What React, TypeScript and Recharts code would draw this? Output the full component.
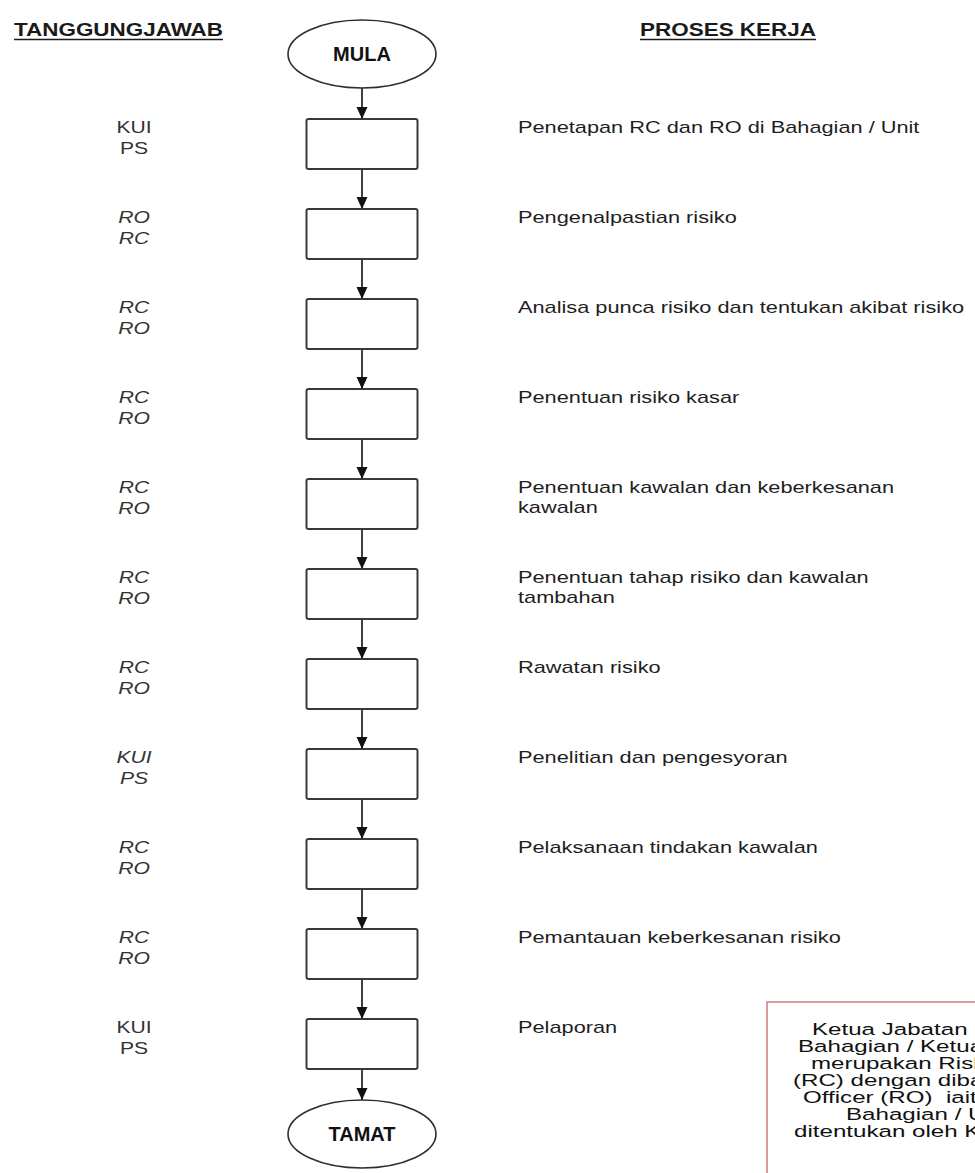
import { ScatterChart, Scatter, XAxis, YAxis, Customized } from 'recharts';

const FONT = '"Liberation Sans", Arial, Helvetica, sans-serif';

// nodes of the flow, top to bottom (row = index)
const nodeLabels = ['MULA', '', '', '', '', '', '', '', '', '', '', '', 'TAMAT'];

const prosesKerja = [
  ['Penetapan RC dan RO di Bahagian / Unit'],
  ['Pengenalpastian risiko'],
  ['Analisa punca risiko dan tentukan akibat risiko'],
  ['Penentuan risiko kasar'],
  ['Penentuan kawalan dan keberkesanan', 'kawalan'],
  ['Penentuan tahap risiko dan kawalan', 'tambahan'],
  ['Rawatan risiko'],
  ['Penelitian dan pengesyoran'],
  ['Pelaksanaan tindakan kawalan'],
  ['Pemantauan keberkesanan risiko'],
  ['Pelaporan'],
];

const tanggungjawab = [
  ['KUI', 'PS'],
  ['RO', 'RC'],
  ['RC', 'RO'],
  ['RC', 'RO'],
  ['RC', 'RO'],
  ['RC', 'RO'],
  ['RC', 'RO'],
  ['KUI', 'PS'],
  ['RC', 'RO'],
  ['RC', 'RO'],
  ['KUI', 'PS'],
];

const ownerItalic = [false, true, true, true, true, true, true, true, true, true, false];

const headers = ['TANGGUNGJAWAB', 'PROSES KERJA'];

// the note box runs off the right edge of the page
const noteLines = [
  'Ketua Jabatan (',
  'Bahagian / Ketua',
  'merupakan Risk',
  '(RC) dengan diba',
  'Officer (RO)\u00a0 iait',
  'Bahagian / U',
  'ditentukan oleh K',
];

const flowData = nodeLabels.map((label, i) => ({
  lane: 1,
  row: i,
  label,
  terminal: i === 0 || i === nodeLabels.length - 1,
  proses: i > 0 && i <= prosesKerja.length ? prosesKerja[i - 1] : null,
}));

const ownerData = tanggungjawab.map((lines, i) => ({
  lane: 0,
  row: i + 1,
  lines,
  italic: ownerItalic[i],
}));

const BOX_W = 111;
const BOX_H = 50;
const ELL_RX = 74;
const ELL_RY = 34;

function FlowNode(props: any) {
  const { cx, cy, payload } = props;
  if (cx == null || cy == null) return null;
  const top = payload.terminal ? cy - ELL_RY : cy - BOX_H / 2;
  return (
    <g>
      {payload.terminal ? (
        <ellipse cx={cx} cy={cy} rx={ELL_RX} ry={ELL_RY} fill="#fff" stroke="#2e2e2e" strokeWidth={1.6} />
      ) : (
        <rect
          x={cx - BOX_W / 2}
          y={top}
          width={BOX_W}
          height={BOX_H}
          rx={2}
          fill="#fff"
          stroke="#3a3a3a"
          strokeWidth={2}
        />
      )}
      {payload.row > 0 && (
        <polygon points={`${cx - 5.5},${top - 12} ${cx + 5.5},${top - 12} ${cx},${top}`} fill="#111" />
      )}
      {payload.terminal && (
        <text
          x={cx}
          y={cy + 7}
          textAnchor="middle"
          fontFamily={FONT}
          fontWeight="bold"
          fontSize={20}
          fill="#111"
        >
          {payload.label}
        </text>
      )}
      {payload.proses &&
        payload.proses.map((line: string, k: number) => (
          <text
            key={k}
            transform={`translate(${cx + 156} ${cy - 11 + k * 20}) scale(1.28 1)`}
            fontFamily={FONT}
            fontSize={17}
            fill="#1e1e1e"
          >
            {line}
          </text>
        ))}
    </g>
  );
}

function OwnerLabel(props: any) {
  const { cx, cy, payload } = props;
  if (cx == null || cy == null) return null;
  return (
    <g>
      {payload.lines.map((line: string, k: number) => (
        <text
          key={k}
          transform={`translate(${cx} ${cy - 11 + k * 21}) scale(1.32 1)`}
          textAnchor="middle"
          fontFamily={FONT}
          fontSize={16}
          fontStyle={payload.italic ? 'italic' : 'normal'}
          fill="#333"
        >
          {line}
        </text>
      ))}
    </g>
  );
}

function Annotations() {
  const headerPos = [
    { x: 14, w: 209 },
    { x: 640, w: 176 },
  ];
  const noteX = [812, 798, 811, 793, 803, 846, 794];
  return (
    <g>
      {headers.map((h, i) => (
        <g key={h}>
          <text
            x={headerPos[i].x}
            y={36}
            textLength={headerPos[i].w}
            lengthAdjust="spacingAndGlyphs"
            fontFamily={FONT}
            fontWeight="bold"
            fontSize={17.5}
            fill="#1a1a1a"
          >
            {h}
          </text>
          <line
            x1={headerPos[i].x}
            x2={headerPos[i].x + headerPos[i].w}
            y1={39.5}
            y2={39.5}
            stroke="#1a1a1a"
            strokeWidth={1.6}
          />
        </g>
      ))}
      <rect x={767} y={1002} width={400} height={400} fill="#fff" stroke="#cd7b7e" strokeWidth={1.5} />
      {noteLines.map((line, i) => (
        <text
          key={i}
          transform={`translate(${noteX[i]} ${1034.5 + i * 17}) scale(1.42 1)`}
          fontFamily={FONT}
          fontSize={17}
          fill="#111"
        >
          {line}
        </text>
      ))}
    </g>
  );
}

export default function App() {
  return (
    <div
      style={{
        position: 'absolute',
        left: 0,
        top: 0,
        width: 975,
        height: 1173,
        overflow: 'hidden',
        background: '#fff',
      }}
    >
      <ScatterChart width={975} height={1173} margin={{ top: 54, right: 613, bottom: 39, left: 134 }}>
        <XAxis type="number" dataKey="lane" domain={[0, 1]} hide />
        <YAxis type="number" dataKey="row" domain={[0, 12]} reversed hide />
        <Customized component={<Annotations />} />
        <Scatter
          data={flowData}
          line={{ stroke: '#111', strokeWidth: 1.6 }}
          shape={(p: any) => <FlowNode {...p} />}
          isAnimationActive={false}
        />
        <Scatter data={ownerData} shape={(p: any) => <OwnerLabel {...p} />} isAnimationActive={false} />
      </ScatterChart>
    </div>
  );
}
